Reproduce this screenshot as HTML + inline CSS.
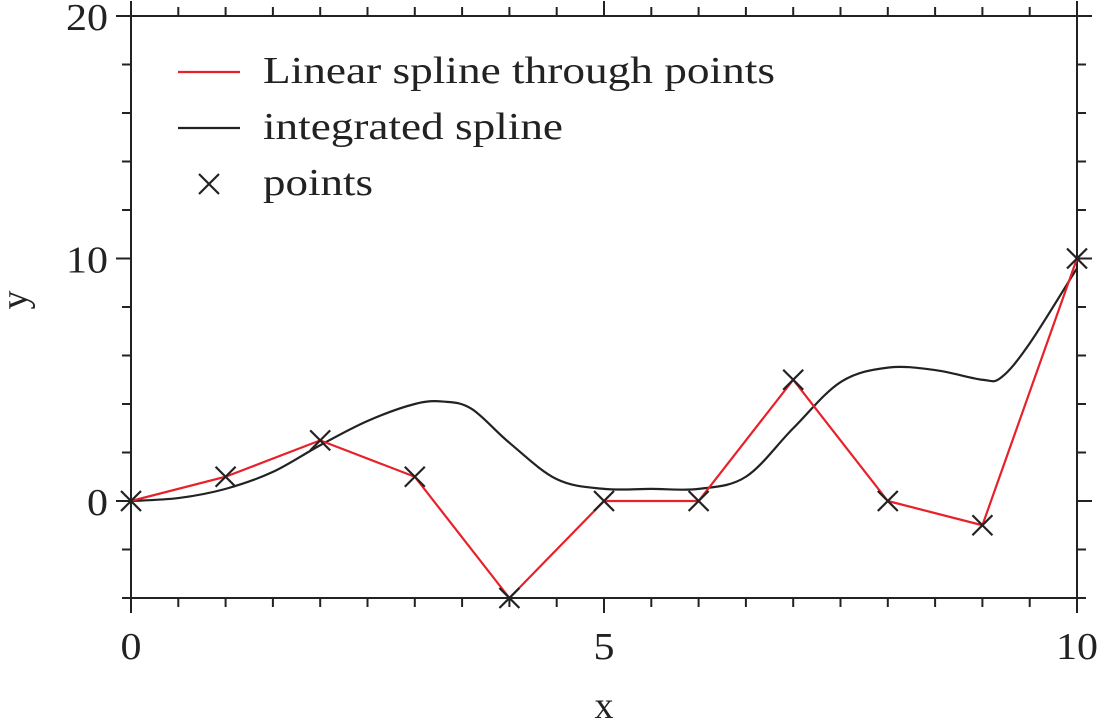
<!DOCTYPE html>
<html><head><meta charset="utf-8"><style>
body{margin:0;background:#fff}
svg text{font-family:"Liberation Serif",serif;fill:#222}
</style></head><body>
<svg id="chart" width="1098" height="723" xmlns="http://www.w3.org/2000/svg"></svg>
<script>
const pointX=[0,1,2,3,4,5,6,7,8,9,10];
const pointY=[0,1,2.5,1,-4,0,0,5,0,-1,10];
const splineX=[0,0.5,1,1.5,2,2.5,3,3.3,3.6,4,4.5,5,5.5,6,6.5,7,7.5,8,8.5,9,9.2,9.5,10];
const splineY=[0,0.12,0.5,1.2,2.3,3.3,4.0,4.1,3.8,2.4,0.9,0.5,0.5,0.5,1.0,3.0,4.9,5.5,5.4,5.0,5.1,6.5,9.6];
const xTicks=[0,5,10];
const yTicks=[0,10,20];
const X=v=>131+v*94.6, Y=v=>501-v*24.25;
const svg=document.getElementById('chart');
const NS='http://www.w3.org/2000/svg';
function mk(t,a,p){const e=document.createElementNS(NS,t);for(const k in a)e.setAttribute(k,a[k]);(p||svg).appendChild(e);return e;}
const fr=mk('rect',{x:131,y:16,width:946,height:582,fill:'none',stroke:'#222','stroke-width':2});


for(let v=0;v<=10.001;v+=0.5){const maj=Math.abs(v-Math.round(v/5)*5)<1e-6;const L=maj?15:9;
 const t=mk('path',{d:`M${X(v)},598v${L}M${X(v)},16v${-L}`,stroke:'#222','stroke-width':2});
 
 }
for(let v=-4;v<=20;v+=2){const maj=v%10===0;const L=maj?15:9;
 const t=mk('path',{d:`M131,${Y(v)}h${-L}M1077,${Y(v)}h${L}`,stroke:'#222','stroke-width':2});
 
 }
xTicks.forEach(v=>{const s=String(v);const t=mk('text',{x:X(v),y:659,'font-size':38,'text-anchor':'middle',textLength:s.length*21,lengthAdjust:'spacingAndGlyphs'});t.textContent=s;
 
 });
yTicks.forEach(v=>{const s=String(v);const t=mk('text',{x:108,y:Y(v)+14,'font-size':38,'text-anchor':'end',textLength:s.length*21,lengthAdjust:'spacingAndGlyphs'});t.textContent=s;
 
 });
let t=mk('text',{x:604,y:718,'font-size':38,'text-anchor':'middle'});t.textContent='x';


t=mk('text',{x:0,y:0,'font-size':38,'text-anchor':'middle',transform:'translate(27,300) rotate(-90)'});t.textContent='y';


const P=splineX.map((x,i)=>[X(x),Y(splineY[i])]);
let d=`M${P[0][0]},${P[0][1]}`;
for(let i=0;i<P.length-1;i++){const p0=P[Math.max(0,i-1)],p1=P[i],p2=P[i+1],p3=P[Math.min(P.length-1,i+2)];
 d+=`C${p1[0]+(p2[0]-p0[0])/6},${p1[1]+(p2[1]-p0[1])/6} ${p2[0]-(p3[0]-p1[0])/6},${p2[1]-(p3[1]-p1[1])/6} ${p2[0]},${p2[1]}`;}
const sp=mk('path',{d,fill:'none',stroke:'#222','stroke-width':2.2});


const lin=mk('polyline',{points:pointX.map((x,i)=>X(x)+','+Y(pointY[i])).join(' '),fill:'none',stroke:'#e8202a','stroke-width':2.2});


pointX.forEach((x,i)=>{const cx=X(x),cy=Y(pointY[i]);
 const m=mk('path',{d:`M${cx-10},${cy-10}L${cx+10},${cy+10}M${cx-10},${cy+10}L${cx+10},${cy-10}`,stroke:'#222','stroke-width':2.2});
 
 });
const g=mk('g',{});


const entries=[['Linear spline through points','#e8202a','line',512],['integrated spline','#222','line',300],['points','#222','x',110]];
entries.forEach((e,i)=>{const y=72+i*56;
 if(e[2]==='line'){const l=mk('line',{x1:178,x2:240,y1:y,y2:y,stroke:e[1],'stroke-width':2.2},g);}
 else{const l=mk('path',{d:`M199,${y-10}l20,20M199,${y+10}l20,-20`,stroke:e[1],'stroke-width':2.2},g);}
 const tx=mk('text',{x:263,y:y+11,'font-size':38,textLength:e[3],lengthAdjust:'spacingAndGlyphs'},g);tx.textContent=e[0];
 
 });
</script>
</body></html>
